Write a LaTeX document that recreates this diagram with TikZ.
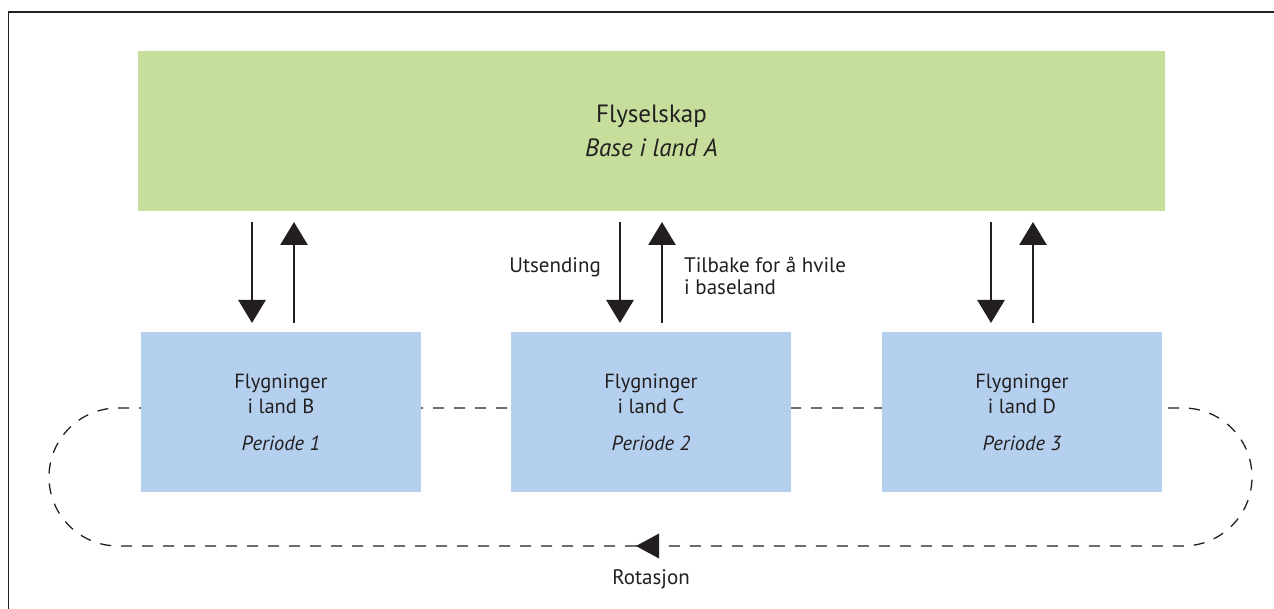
\documentclass[tikz,border=0pt]{standalone}
\usepackage{fontspec}
\setmainfont{PT Sans}
\usetikzlibrary{arrows.meta}
\definecolor{basegreen}{HTML}{C6DD9C}
\definecolor{landblue}{HTML}{B4D0EE}
\definecolor{ink}{HTML}{231F20}
\tikzset{
  basebox/.style={fill=basegreen, minimum width=1027pt, minimum height=160pt, inner sep=0pt, align=center,
    font=\fontsize{25}{34}\selectfont, text=ink},
  landbox/.style={fill=landblue, minimum width=280pt, minimum height=160pt, inner sep=0pt, align=center,
    font=\fontsize{20.5}{25}\selectfont, text=ink},
  flow/.style={draw=ink, line width=2.8pt, -{Triangle[width=27pt,length=23pt]}},
  loopline/.style={draw=ink, line width=1.3pt, dash pattern=on 11pt off 10pt},
  lbl/.style={font=\fontsize{21}{22}\selectfont, text=ink, inner sep=0pt}
}
\begin{document}
\begin{tikzpicture}[x=1pt,y=-1pt]
\useasboundingbox (0,0) rectangle (1274,609);
% frame
\draw[ink, line width=1.5pt] (8.5,609) -- (8.5,12) -- (1274,12);

% rotation loop (drawn first so the boxes cover it)
\coordinate (loopTL) at (118,408);
\coordinate (loopTR) at (1183,408);
\coordinate (loopBR) at (1183,546);
\coordinate (loopMid) at (636,546);
\coordinate (loopBL) at (118,546);
\draw[loopline] (loopTL) -- (loopTR) arc (-90:90:69) -- (loopMid);
\draw[loopline] (loopMid) -- (loopBL) arc (90:270:69);
\fill[ink] (loopMid) -- ++(23,-12.5) -- ++(0,25) -- cycle;

% boxes
\node[basebox] (base) at (651.5,131) {Flyselskap\\\textit{Base i land A}};
\node[landbox] (landB) at (281,412) {Flygninger\\i land B\\[12pt]\textit{Periode 1}};
\node[landbox] (landC) at (651,412) {Flygninger\\i land C\\[12pt]\textit{Periode 2}};
\node[landbox] (landD) at (1022,412) {Flygninger\\i land D\\[12pt]\textit{Periode 3}};

% dispatch / return arrows
\foreach \n/\xd/\xu in {B/252/294, C/620/662, D/991/1033}{
  \coordinate (out\n top) at (\xd,222);
  \coordinate (out\n bot) at (\xd,323);
  \coordinate (ret\n top) at (\xu,222);
  \coordinate (ret\n bot) at (\xu,323);
  \draw[flow] (out\n top) -- (out\n bot);
  \draw[flow] (ret\n bot) -- (ret\n top);
}

% labels
\node[lbl, anchor=base east] (utsending) at (601,273) {Utsending};
\node[lbl, anchor=base west] (tilbake) at (684,273) {Tilbake for å hvile};
\node[lbl, anchor=base west] (baseland) at (684,295) {i baseland};
\node[lbl, anchor=base] (rotasjon) at (651,584) {Rotasjon};
\end{tikzpicture}
\end{document}
